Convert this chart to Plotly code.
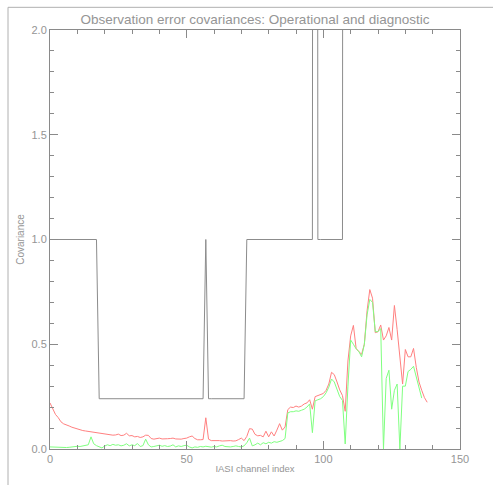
import plotly.graph_objects as go

title_text = "Observation error covariances: Operational and diagnostic"
x_label = "IASI channel index"
y_label = "Covariance"

operational = ([1.0] * 18 + [0.24] * 39 + [1.0] + [0.24] * 14 + [1.0] * 25 + [20.0]
               + [1.0] * 10 + [20.0] * 31)

diag_red = [0.22, 0.19, 0.165, 0.15, 0.13, 0.12, 0.113, 0.11, 0.104, 0.1,
            0.095, 0.09, 0.088, 0.086, 0.084, 0.08, 0.079, 0.077, 0.075, 0.074,
            0.072, 0.07, 0.069, 0.066, 0.067, 0.071, 0.064, 0.066, 0.075, 0.063,
            0.064, 0.058, 0.06, 0.055, 0.058, 0.066, 0.065, 0.05, 0.047, 0.05,
            0.052, 0.048, 0.047, 0.049, 0.05, 0.052, 0.048, 0.046, 0.047, 0.05,
            0.052, 0.058, 0.062, 0.05, 0.044, 0.044, 0.045, 0.149, 0.047, 0.04,
            0.04, 0.043, 0.04, 0.038, 0.039, 0.038, 0.04, 0.038, 0.039, 0.045,
            0.052, 0.04, 0.06, 0.097, 0.095, 0.07, 0.063, 0.065, 0.058, 0.085,
            0.058, 0.082, 0.062, 0.09, 0.121, 0.09, 0.105, 0.188, 0.2, 0.198,
            0.205, 0.2, 0.205, 0.215, 0.22, 0.235, 0.19, 0.25, 0.255, 0.26,
            0.265, 0.28, 0.31, 0.366, 0.355, 0.32, 0.282, 0.255, 0.18, 0.42,
            0.54, 0.59, 0.48, 0.465, 0.452, 0.5, 0.66, 0.761, 0.72, 0.555,
            0.56, 0.592, 0.52, 0.54, 0.58, 0.52, 0.685, 0.57, 0.44, 0.31,
            0.475, 0.44, 0.44, 0.48, 0.39, 0.32, 0.28, 0.245, 0.223]

diag_green = [0.01, 0.009, 0.008, 0.008, 0.007, 0.006, 0.007, 0.008, 0.01, 0.012,
              0.013, 0.012, 0.014, 0.016, 0.02, 0.058, 0.025, 0.016, 0.012, 0.005,
              0.014, 0.02, 0.016, 0.022, 0.018, 0.02, 0.015, 0.018, 0.025, 0.015,
              0.02, 0.016, 0.026, 0.012, 0.016, 0.047, 0.02, 0.01, 0.012, 0.016,
              0.018, 0.013, 0.016, 0.012, 0.014, 0.02, 0.01, 0.015, 0.012, 0.016,
              0.018, 0.01, 0.005, 0.01, 0.008, 0.012, 0.01, 0.013, 0.011, 0.009,
              0.012, 0.01, 0.015, 0.018, 0.012, 0.01, 0.01, 0.012, 0.015, 0.012,
              0.01, 0.015, 0.03, 0.052, 0.015, 0.02, 0.028, 0.02, 0.03, 0.025,
              0.032, 0.028, 0.035, 0.032, 0.035, 0.04, 0.05, 0.172, 0.178, 0.178,
              0.182, 0.18, 0.185, 0.19, 0.2, 0.215, 0.078, 0.23, 0.235, 0.24,
              0.25, 0.268, 0.295, 0.334, 0.32, 0.28, 0.25, 0.232, 0.024, 0.3,
              0.52, 0.5, 0.478, 0.465, 0.44, 0.5, 0.64, 0.714, 0.7, 0.56,
              0.56, 0.575, 0.0, 0.337, 0.376, 0.19, 0.28, 0.31, 0.0, 0.3,
              0.3, 0.37, 0.38, 0.395, 0.34, 0.29, 0.243]

x_ticks = [0, 50, 100, 150]
x_tick_text = ["0", "50", "100", "150"]
y_ticks = [0.0, 0.5, 1.0, 1.5, 2.0]
y_tick_text = ["0.0", "0.5", "1.0", "1.5", "2.0"]

AX = "#8a8a8a"
TXT = "#959595"
FONT = "Liberation Sans"

fig = go.Figure()
fig.add_trace(go.Scatter(x=list(range(len(operational))), y=operational, mode="lines",
                         line=dict(color="#8c8c8c", width=1), showlegend=False))
fig.add_trace(go.Scatter(x=list(range(len(diag_red))), y=diag_red, mode="lines",
                         line=dict(color="#ff8080", width=1), showlegend=False))
fig.add_trace(go.Scatter(x=list(range(len(diag_green))), y=diag_green, mode="lines",
                         line=dict(color="#80ff80", width=1), showlegend=False))

axis_common = dict(showgrid=False, zeroline=False, showline=True, linecolor=AX, linewidth=1,
                   mirror="allticks", ticks="inside", ticklen=8, tickcolor=AX, tickwidth=1,
                   tickfont=dict(family=FONT, size=11, color=TXT))

fig.update_xaxes(range=[0, 150], tickvals=x_ticks, ticktext=x_tick_text,
                 minor=dict(dtick=10, ticks="inside", ticklen=4, tickcolor=AX),
                 title=dict(text=x_label, font=dict(family=FONT, size=9.5, color=TXT), standoff=1),
                 **axis_common)
fig.update_yaxes(range=[0, 2.0], tickvals=y_ticks, ticktext=y_tick_text,
                 minor=dict(dtick=0.1, ticks="inside", ticklen=4, tickcolor=AX),
                 title=dict(text=y_label, font=dict(family=FONT, size=10, color=TXT), standoff=5),
                 **axis_common)

fig.update_layout(
    width=493, height=485,
    margin=dict(l=50, r=33, t=30, b=30),
    paper_bgcolor="white", plot_bgcolor="white",
    title=dict(text=title_text, font=dict(family=FONT, size=13.5, color=TXT),
               x=(50 + 410 / 2) / 493, xanchor="center",
               yref="container", y=1 - 19 / 485, yanchor="middle"),
    shapes=[
        dict(type="line", xref="paper", yref="paper", x0=-42 / 410, x1=-42 / 410,
             y0=(455 - 7) / 425, y1=-0.2, line=dict(color="#b0b0b0", width=1)),
        dict(type="line", xref="paper", yref="paper", x0=-42 / 410, x1=1.2,
             y0=(455 - 7) / 425, y1=(455 - 7) / 425, line=dict(color="#b0b0b0", width=1)),
    ],
)

fig.write_html("out.html")
